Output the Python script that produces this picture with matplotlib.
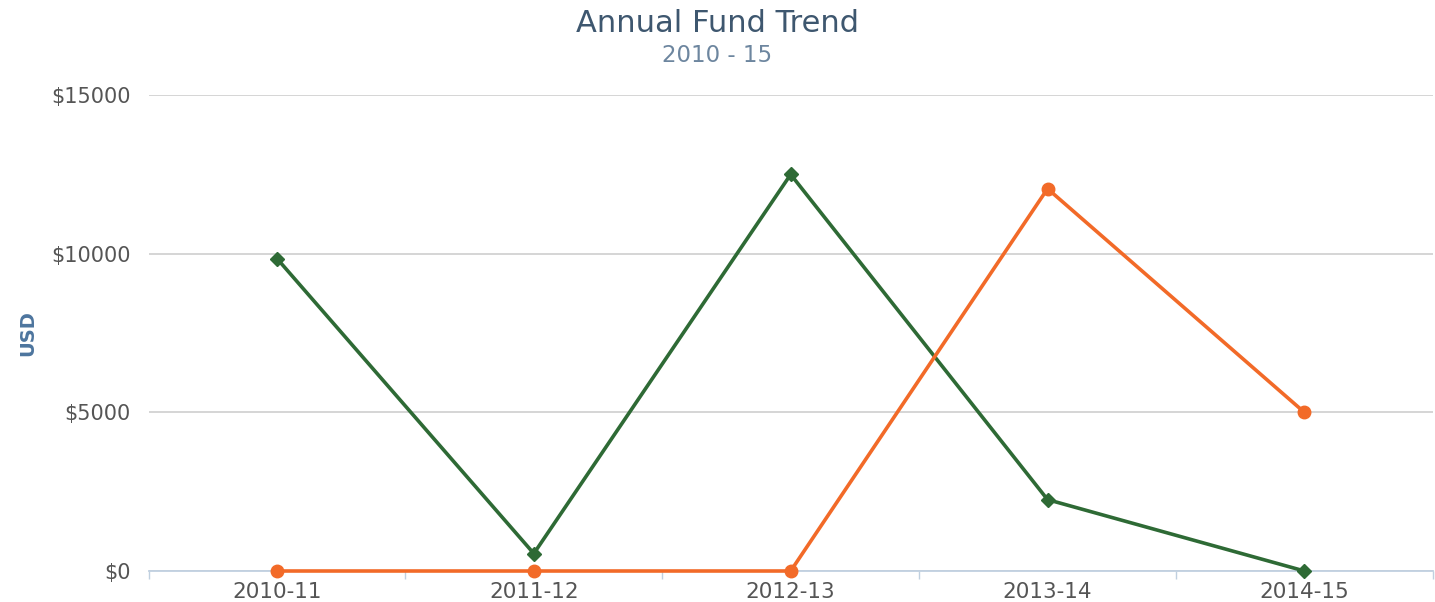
import numpy as np
import matplotlib
matplotlib.use("Agg")
from matplotlib import pyplot as plt

categories = ["2010-11", "2011-12", "2012-13", "2013-14", "2014-15"]
green_vals = [9850, 550, 12500, 2250, 0]
orange_vals = [0, 0, 0, 12050, 5000]
y_ticks = [0, 5000, 10000, 15000]
y_labels = ["$0", "$5000", "$10000", "$15000"]

plt.rcParams['font.family'] = ['DejaVu Sans']

fig = plt.figure(figsize=(14.35, 6.02), dpi=100)
ax = fig.add_axes([0.1035, 0.0515, 0.895, 0.7905])

x = np.arange(len(categories))
ax.plot(x, green_vals, color="#2e6a35", lw=2.6, marker="D", ms=7.5,
        clip_on=False, zorder=3)
ax.plot(x, orange_vals, color="#f26a28", lw=2.6, marker="o", ms=9,
        clip_on=False, zorder=4)

ax.set_xlim(-0.5, len(categories) - 0.5)
ax.set_ylim(0, 15000)
ax.set_yticks(y_ticks)
ax.set_yticklabels(y_labels)
ax.set_xticks(x)
ax.set_xticklabels(categories)
ax.set_xticks(np.arange(-0.5, len(categories)), minor=True)

ax.tick_params(axis="y", length=0, pad=13, labelsize=15, labelcolor="#555555")
ax.tick_params(axis="x", which="major", length=0, pad=8, labelsize=15.5,
               labelcolor="#555555")
ax.tick_params(axis="x", which="minor", length=6, width=1, color="#c0d0e0")

ax.grid(axis="y", color="#d2d2d2", lw=1.3)
ax.set_axisbelow(True)
for s in ["top", "right", "left"]:
    ax.spines[s].set_visible(False)
ax.spines["bottom"].set_color("#c0d0e0")
ax.spines["bottom"].set_linewidth(1.3)

ax.set_ylabel("USD", color="#4d759e", fontsize=14, fontweight="bold")
ax.yaxis.set_label_coords(-0.087, 0.5)

fig.text(0.5, 0.961, "Annual Fund Trend", ha="center", va="center",
         fontsize=22, color="#3e576f", fontweight="medium")
fig.text(0.5, 0.907, "2010 - 15", ha="center", va="center",
         fontsize=16.5, color="#6d869f")

fig.savefig("out.png", dpi=100)
